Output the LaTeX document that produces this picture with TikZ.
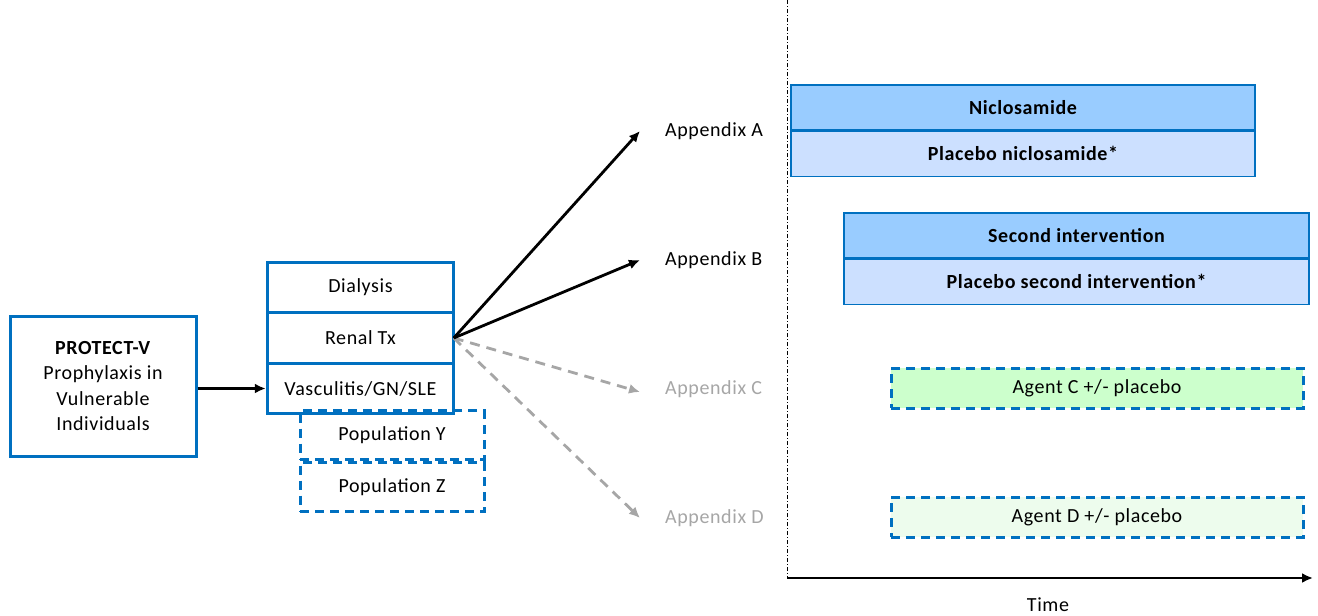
\documentclass[tikz,border=0pt]{standalone}
\usepackage{fontspec}
\setmainfont{Carlito}[LetterSpace=3]
\usetikzlibrary{arrows.meta,positioning}
\definecolor{pvblue}{HTML}{0070C0}
\definecolor{armdark}{HTML}{99CCFF}
\definecolor{armlight}{HTML}{CCE0FF}
\definecolor{agentc}{HTML}{CCFFCC}
\definecolor{agentd}{HTML}{EDFCED}
\definecolor{greyish}{HTML}{A6A6A6}
\begin{document}
\begin{tikzpicture}[x=1pt, y=-1pt, font=\fontsize{20}{25.5}\selectfont,
  main/.style = {draw=pvblue, line width=3pt, align=center, inner sep=0pt},
  row/.style = {draw=pvblue, line width=1.5pt, minimum width=185pt, minimum height=49pt, inner sep=0pt},
  pop/.style = {draw=pvblue, line width=3pt, dash pattern=on 9pt off 6pt, minimum width=184pt, minimum height=49pt, inner sep=0pt},
  arm/.style = {draw=pvblue, line width=1.2pt, minimum height=45pt, inner sep=0pt, font=\fontsize{20}{25}\selectfont\bfseries},
  agent/.style = {draw=pvblue, line width=3pt, dash pattern=on 9pt off 6pt, minimum width=412pt, minimum height=40pt, inner sep=0pt},
  appx/.style = {anchor=west, inner sep=0pt},
  solid arrow/.style = {line width=2.8pt, -{Latex[length=11pt, width=10pt]}},
  grey arrow/.style = {greyish, line width=2.8pt, dash pattern=on 10pt off 7pt, -{Latex[length=11pt, width=10pt]}}]
\useasboundingbox (0,0) rectangle (1318,616);

\node[main, minimum width=186pt, minimum height=140pt] (protect) at (103,386) {\textbf{PROTECT-V}\\Prophylaxis in\\Vulnerable\\Individuals};

\node[pop] (popy) at (392,435) {Population Y};
\node[pop, below=0pt of popy] (popz) {Population Z};

\node[row, fill=white] (dialysis) at (360.5,287.5) {Dialysis};
\node[row, below=0pt of dialysis] (renal) {Renal Tx};
\node[row, below=0pt of renal] (vasc) {Vasculitis/GN/SLE};
\draw[pvblue, line width=3pt] (dialysis.north west) rectangle (vasc.south east);

\draw[solid arrow] (protect.east |- vasc.west) -- ([xshift=-1.5pt]vasc.west);

\node[appx] (appa) at (665,131) {Appendix A};
\node[appx] (appb) at (665,260) {Appendix B};
\node[appx, text=greyish] (appc) at (665,389) {Appendix C};
\node[appx, text=greyish] (appd) at (665,518) {Appendix D};

\draw[grey arrow] (renal.east) -- ([xshift=-25pt, yshift=-3pt]appc.west);
\draw[grey arrow] (renal.east) -- ([xshift=-25pt]appd.west);
\draw[solid arrow] (renal.east) -- ([xshift=-25pt]appa.west);
\draw[solid arrow] (renal.east) -- ([xshift=-25pt]appb.west);

\coordinate (ttop) at (787,0);
\coordinate (origin) at (787,578);
\coordinate (tend) at (1313,578);
\draw[line width=0.8pt, dash pattern=on 4pt off 2pt on 1pt off 2pt] (ttop) -- (origin);
\draw[line width=2.8pt, -{Latex[length=11pt, width=10pt]}] (origin) -- (tend);
\node (time) at (1048,605) {Time};

\node[arm, fill=armdark, minimum width=464pt] (nic) at (1023,107.5) {Niclosamide};
\node[arm, fill=armlight, minimum width=464pt, below=0pt of nic] (placnic) {Placebo niclosamide*};
\node[arm, fill=armdark, minimum width=465pt] (second) at (1076.5,235.5) {Second intervention};
\node[arm, fill=armlight, minimum width=465pt, below=0pt of second] (placsecond) {Placebo second intervention*};

\node[agent, fill=agentc] (agentc) at (1097,388) {Agent C +/- placebo};
\node[agent, fill=agentd] (agentd) at (1097,517) {Agent D +/- placebo};

\end{tikzpicture}
\end{document}
